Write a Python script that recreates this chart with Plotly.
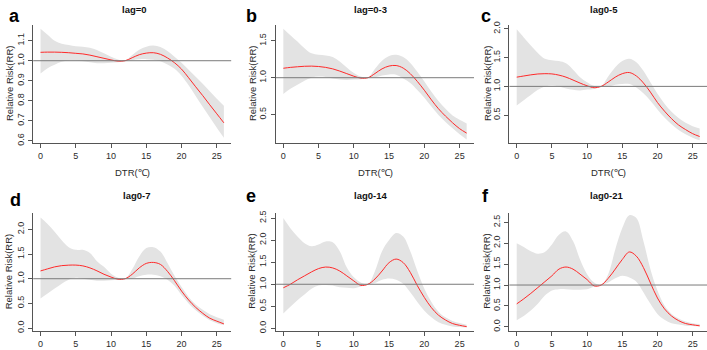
import plotly.graph_objects as go

# ---------------- data ----------------
dtr = list(range(27))  # DTR (℃) 0..26

panel_letters = ["a", "b", "c", "d", "e", "f"]
panel_titles = ["lag=0", "lag=0-3", "lag0-5", "lag0-7", "lag0-14", "lag0-21"]
x_ticks = [0, 5, 10, 15, 20, 25]
ref_rr = 1.0

rr_a = [1.042, 1.043, 1.043, 1.042, 1.040, 1.037, 1.034, 1.028, 1.020, 1.012, 1.004, 0.998, 1.000,
        1.015, 1.030, 1.038, 1.040, 1.032, 1.014, 0.990, 0.958, 0.915, 0.870, 0.826, 0.780, 0.735, 0.690]
up_a = [1.160, 1.130, 1.100, 1.085, 1.078, 1.072, 1.070, 1.065, 1.054, 1.037, 1.020, 1.006, 1.001,
        1.028, 1.055, 1.070, 1.076, 1.068, 1.048, 1.020, 0.990, 0.955, 0.920, 0.885, 0.848, 0.810, 0.775]
lo_a = [0.936, 0.963, 0.980, 0.995, 1.000, 1.000, 0.998, 0.992, 0.988, 0.988, 0.990, 0.992, 0.999,
        1.003, 1.007, 1.008, 1.005, 0.997, 0.981, 0.960, 0.925, 0.877, 0.824, 0.770, 0.718, 0.665, 0.615]

rr_b = [1.128, 1.140, 1.148, 1.155, 1.157, 1.152, 1.140, 1.120, 1.090, 1.055, 1.020, 0.995, 1.000,
        1.057, 1.120, 1.158, 1.165, 1.130, 1.055, 0.950, 0.830, 0.700, 0.580, 0.480, 0.390, 0.310, 0.250]
up_b = [1.664, 1.575, 1.490, 1.400, 1.330, 1.310, 1.300, 1.280, 1.220, 1.140, 1.065, 1.015, 1.002,
        1.120, 1.230, 1.295, 1.310, 1.280, 1.200, 1.080, 0.950, 0.810, 0.685, 0.580, 0.490, 0.430, 0.380]
lo_b = [0.780, 0.850, 0.905, 0.960, 1.000, 1.015, 1.010, 0.990, 0.975, 0.970, 0.975, 0.980, 0.998,
        1.005, 1.030, 1.045, 1.040, 0.990, 0.930, 0.835, 0.730, 0.610, 0.495, 0.400, 0.315, 0.235, 0.165]

rr_c = [1.160, 1.180, 1.200, 1.215, 1.220, 1.216, 1.195, 1.160, 1.110, 1.057, 1.010, 0.977, 1.000,
        1.075, 1.160, 1.220, 1.240, 1.180, 1.060, 0.900, 0.720, 0.570, 0.440, 0.330, 0.250, 0.180, 0.130]
up_c = [1.990, 1.850, 1.710, 1.580, 1.480, 1.455, 1.440, 1.400, 1.290, 1.160, 1.070, 1.005, 1.003,
        1.170, 1.330, 1.440, 1.480, 1.420, 1.270, 1.070, 0.870, 0.700, 0.560, 0.450, 0.370, 0.310, 0.270]
lo_c = [0.670, 0.760, 0.850, 0.940, 1.000, 1.015, 1.000, 0.965, 0.940, 0.930, 0.945, 0.955, 0.997,
        1.000, 1.030, 1.040, 1.040, 0.980, 0.880, 0.750, 0.600, 0.460, 0.345, 0.245, 0.170, 0.110, 0.065]

rr_d = [1.158, 1.200, 1.240, 1.265, 1.275, 1.276, 1.260, 1.220, 1.160, 1.090, 1.033, 0.990, 1.000,
        1.090, 1.220, 1.310, 1.330, 1.290, 1.150, 0.960, 0.750, 0.570, 0.420, 0.300, 0.200, 0.140, 0.085]
up_d = [2.240, 2.110, 1.950, 1.780, 1.640, 1.585, 1.585, 1.520, 1.355, 1.240, 1.100, 1.020, 1.002,
        1.190, 1.450, 1.620, 1.640, 1.550, 1.320, 1.060, 0.830, 0.630, 0.480, 0.370, 0.280, 0.220, 0.170]
lo_d = [0.600, 0.700, 0.800, 0.900, 0.980, 1.020, 1.000, 0.980, 0.960, 0.960, 0.970, 0.980, 0.998,
        1.000, 1.050, 1.080, 1.080, 1.050, 0.980, 0.860, 0.670, 0.500, 0.360, 0.250, 0.160, 0.100, 0.060]

rr_e = [0.920, 1.000, 1.100, 1.190, 1.280, 1.355, 1.390, 1.370, 1.300, 1.190, 1.075, 0.975, 1.000,
        1.120, 1.300, 1.490, 1.570, 1.490, 1.270, 0.970, 0.700, 0.470, 0.300, 0.190, 0.110, 0.070, 0.040]
up_e = [2.500, 2.270, 2.080, 1.930, 1.860, 1.900, 1.970, 1.950, 1.750, 1.380, 1.160, 1.040, 1.002,
        1.300, 1.750, 2.000, 2.160, 2.080, 1.750, 1.300, 0.900, 0.600, 0.380, 0.250, 0.170, 0.120, 0.080]
lo_e = [0.340, 0.490, 0.640, 0.770, 0.900, 0.970, 0.985, 0.970, 0.930, 0.920, 0.910, 0.950, 0.998,
        1.030, 1.100, 1.130, 1.100, 1.010, 0.820, 0.600, 0.400, 0.250, 0.140, 0.080, 0.045, 0.030, 0.022]

rr_f = [0.550, 0.670, 0.800, 0.940, 1.080, 1.220, 1.380, 1.430, 1.380, 1.260, 1.130, 0.980, 1.000,
        1.160, 1.380, 1.610, 1.790, 1.690, 1.420, 1.050, 0.690, 0.430, 0.260, 0.150, 0.080, 0.050, 0.025]
up_f = [2.000, 1.910, 1.810, 1.750, 1.790, 1.970, 2.200, 2.280, 2.050, 1.610, 1.260, 1.060, 1.002,
        1.260, 1.850, 2.360, 2.670, 2.600, 2.050, 1.380, 0.870, 0.510, 0.310, 0.200, 0.130, 0.090, 0.070]
lo_f = [0.160, 0.260, 0.390, 0.550, 0.750, 0.870, 0.900, 0.900, 0.890, 0.890, 0.900, 0.960, 0.998,
        1.060, 1.160, 1.220, 1.180, 1.080, 0.830, 0.550, 0.310, 0.170, 0.090, 0.055, 0.030, 0.024, 0.015]

y_ticks_a = [0.6, 0.7, 0.8, 0.9, 1.0, 1.1]
y_ticks_b = [0.5, 1.0, 1.5]
y_ticks_c = [0.5, 1.0, 1.5, 2.0]
y_ticks_d = [0.0, 0.5, 1.0, 1.5, 2.0]
y_ticks_e = [0.0, 0.5, 1.0, 1.5, 2.0, 2.5]
y_ticks_f = [0.0, 0.5, 1.0, 1.5, 2.0, 2.5]

rr_all = [rr_a, rr_b, rr_c, rr_d, rr_e, rr_f]
up_all = [up_a, up_b, up_c, up_d, up_e, up_f]
lo_all = [lo_a, lo_b, lo_c, lo_d, lo_e, lo_f]
yticks_all = [y_ticks_a, y_ticks_b, y_ticks_c, y_ticks_d, y_ticks_e, y_ticks_f]

# ---------------- layout geometry (pixels) ----------------
W, H = 707, 350
col_px = [(33.2, 231.2), (276.0, 474.0), (509.4, 707.0)]
row_px = [(21.7, 141.7), (213.0, 333.5)]
y_ranges = [(0.590, 1.177), (0.118, 1.710), (0.020, 2.060),
            (-0.056, 2.337), (-0.055, 2.620), (-0.094, 2.727)]
x_range = (-1.04, 27.04)
ytitle_px = [9.0, 252.0, 487.0, 8.5, 252.0, 487.0]
letter_px = [(14.5, 12.5), (251.0, 12.0), (485.5, 12.5), (15.0, 200.0), (251.0, 196.0), (485.0, 196.0)]
title_px = [(134.0, 5.5), (370.0, 5.5), (604.0, 5.5), (136.5, 195.5), (370.0, 195.5), (606.0, 195.5)]

FONT = "Liberation Sans, Arial, Helvetica, sans-serif"
AXIS_COL = "#555555"
TEXT_COL = "#2b2b2b"
BAND_COL = "#e3e3e3"
LINE_COL = "#ff2a2a"
REF_COL = "#7a7a7a"

fig = go.Figure()
shapes = []
annotations = []
layout_axes = {}

for i in range(6):
    r, c = divmod(i, 3)
    sfx = "" if i == 0 else str(i + 1)
    xa, ya = "x" + sfx, "y" + sfx
    x0p, x1p = col_px[c]
    y0p, y1p = row_px[r]

    # confidence band
    fig.add_trace(go.Scatter(x=dtr, y=up_all[i], mode="lines", line=dict(width=0, shape="spline"),
                             xaxis=xa, yaxis=ya, hoverinfo="skip", showlegend=False))
    fig.add_trace(go.Scatter(x=dtr, y=lo_all[i], mode="lines", line=dict(width=0, shape="spline"),
                             fill="tonexty", fillcolor=BAND_COL,
                             xaxis=xa, yaxis=ya, hoverinfo="skip", showlegend=False))
    # relative risk curve
    fig.add_trace(go.Scatter(x=dtr, y=rr_all[i], mode="lines",
                             line=dict(color=LINE_COL, width=1.0, shape="spline"),
                             xaxis=xa, yaxis=ya, hoverinfo="skip", showlegend=False))

    shapes.append(dict(type="line", xref=xa + " domain", x0=0, x1=1, yref=ya, y0=ref_rr, y1=ref_rr,
                       line=dict(color=REF_COL, width=1), layer="above"))

    common = dict(showline=True, linecolor=AXIS_COL, linewidth=1, ticks="outside", ticklen=4,
                  tickwidth=1, tickcolor=AXIS_COL, showgrid=False, zeroline=False,
                  tickfont=dict(family=FONT, size=9, color=TEXT_COL), fixedrange=True)
    layout_axes["xaxis" + sfx] = dict(common, domain=[x0p / W, min(x1p / W, 1.0)], anchor=ya,
                                       range=list(x_range), tickvals=x_ticks, ticklabelstandoff=0)
    layout_axes["yaxis" + sfx] = dict(common, domain=[1 - y1p / H, 1 - y0p / H], anchor=xa,
                                       range=list(y_ranges[i]), tickvals=yticks_all[i],
                                       tickformat=".1f", tickangle=-90, ticklabelstandoff=1)

    # y-axis title
    annotations.append(dict(text="Relative Risk(RR)", xref="paper", yref="paper",
                            x=ytitle_px[i] / W, y=1 - (y0p + y1p) / 2 / H, textangle=-90,
                            xanchor="center", yanchor="middle", showarrow=False,
                            font=dict(family=FONT, size=9.5, color=TEXT_COL)))
    # x-axis title (only top row visible in canvas)
    if r == 0:
        annotations.append(dict(text="DTR(℃)", xref="paper", yref="paper",
                                x=(x0p + x1p) / 2 / W, y=1 - 171.5 / H,
                                xanchor="center", yanchor="middle", showarrow=False,
                                font=dict(family=FONT, size=9.5, color=TEXT_COL)))
    # panel title
    annotations.append(dict(text="<b>" + panel_titles[i] + "</b>", xref="paper", yref="paper",
                            x=title_px[i][0] / W, y=1 - title_px[i][1] / H,
                            xanchor="center", yanchor="middle", showarrow=False,
                            font=dict(family=FONT, size=9.5, color="#111111")))
    # panel letter
    annotations.append(dict(text="<b>" + panel_letters[i] + "</b>", xref="paper", yref="paper",
                            x=letter_px[i][0] / W, y=1 - letter_px[i][1] / H,
                            xanchor="center", yanchor="middle", showarrow=False,
                            font=dict(family=FONT, size=18, color="#000000")))

fig.update_layout(width=W, height=H, margin=dict(l=0, r=0, t=0, b=0),
                  paper_bgcolor="white", plot_bgcolor="white",
                  shapes=shapes, annotations=annotations, showlegend=False, **layout_axes)

fig.write_html("out.html", config={"displayModeBar": False},
               post_script="document.body.style.margin='0';")
